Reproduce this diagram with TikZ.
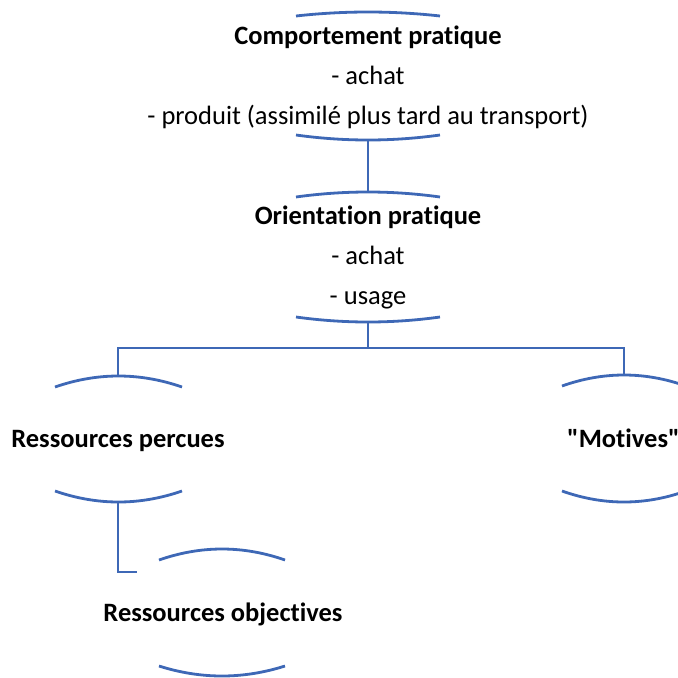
\documentclass[tikz,border=0pt]{standalone}
\usepackage{fontspec}
\setmainfont{Carlito}[Ligatures={TeXOff,CommonOff}]
\definecolor{linkblue}{RGB}{62,104,182}
\tikzset{
  arc/.style={draw=linkblue, line width=2.8pt, line cap=butt},
  link/.style={draw=linkblue, line width=2.8pt},
  title/.style={anchor=base, inner sep=0pt, font=\fontsize{26.5}{30}\selectfont\bfseries},
  item/.style={anchor=base, inner sep=0pt, font=\fontsize{26.5}{30}\selectfont},
}
% shallow arc from (#1,#3) to (#2,#3) passing through height #4 at its middle
\newcommand{\flatarc}[4]{%
  \pgfmathsetmacro{\axa}{#1+2/3*((#1+#2)/2-#1)}%
  \pgfmathsetmacro{\axb}{#2-2/3*(#2-(#1+#2)/2)}%
  \pgfmathsetmacro{\ay}{#3+4/3*(#4-#3)}%
  \draw[arc] (#1,#3) .. controls (\axa,\ay) and (\axb,\ay) .. (#2,#3);}
\begin{document}
\begin{tikzpicture}[x=1pt, y=-1pt]
\useasboundingbox (0,0) rectangle (678,678);

% ---- Comportement pratique ----
\node[title] (cpT) at (368,44) {Comportement pratique};
\node[item]  (cp1) at (368,84) {- achat};
\node[item]  (cp2) at (368,124) {- produit (assimilé plus tard au transport)};
\coordinate (cpN) at (368,12);
\coordinate (cpS) at (368,140);
\flatarc{296}{440}{16}{12}
\flatarc{296}{440}{135}{140}

% ---- Orientation pratique ----
\node[title] (opT) at (368,224) {Orientation pratique};
\node[item]  (op1) at (368,264) {- achat};
\node[item]  (op2) at (368,304) {- usage};
\coordinate (opN) at (368,192);
\coordinate (opS) at (368,322);
\flatarc{296}{440}{197}{192}
\flatarc{296}{440}{317}{322}

% ---- Ressources percues ----
\node[title] (rpT) at (118,447) {Ressources percues};
\coordinate (rpN) at (118,376);
\coordinate (rpS) at (118,502);
\flatarc{55}{182}{387}{376}
\flatarc{55}{182}{491}{502}

% ---- "Motives" ----
\node[title, anchor=base west] (moT) at (567,447) {"Motives"};
\coordinate (moN) at (624,375);
\flatarc{562}{686}{386}{375}
\flatarc{562}{686}{491}{502}

% ---- Ressources objectives ----
\node[title] (roT) at (223,621) {Ressources objectives};
\flatarc{159}{285}{560}{549}
\flatarc{159}{285}{666}{676}

% ---- connectors ----
\coordinate (split) at (368,348);
\coordinate (hook) at (137,572);
\draw[link] (cpS) -- (opN);
\draw[link] (opS) -- (split);
\draw[link] (split) -| (rpN);
\draw[link] (split) -| (moN);
\draw[link] (rpS) |- (hook);
\end{tikzpicture}
\end{document}
